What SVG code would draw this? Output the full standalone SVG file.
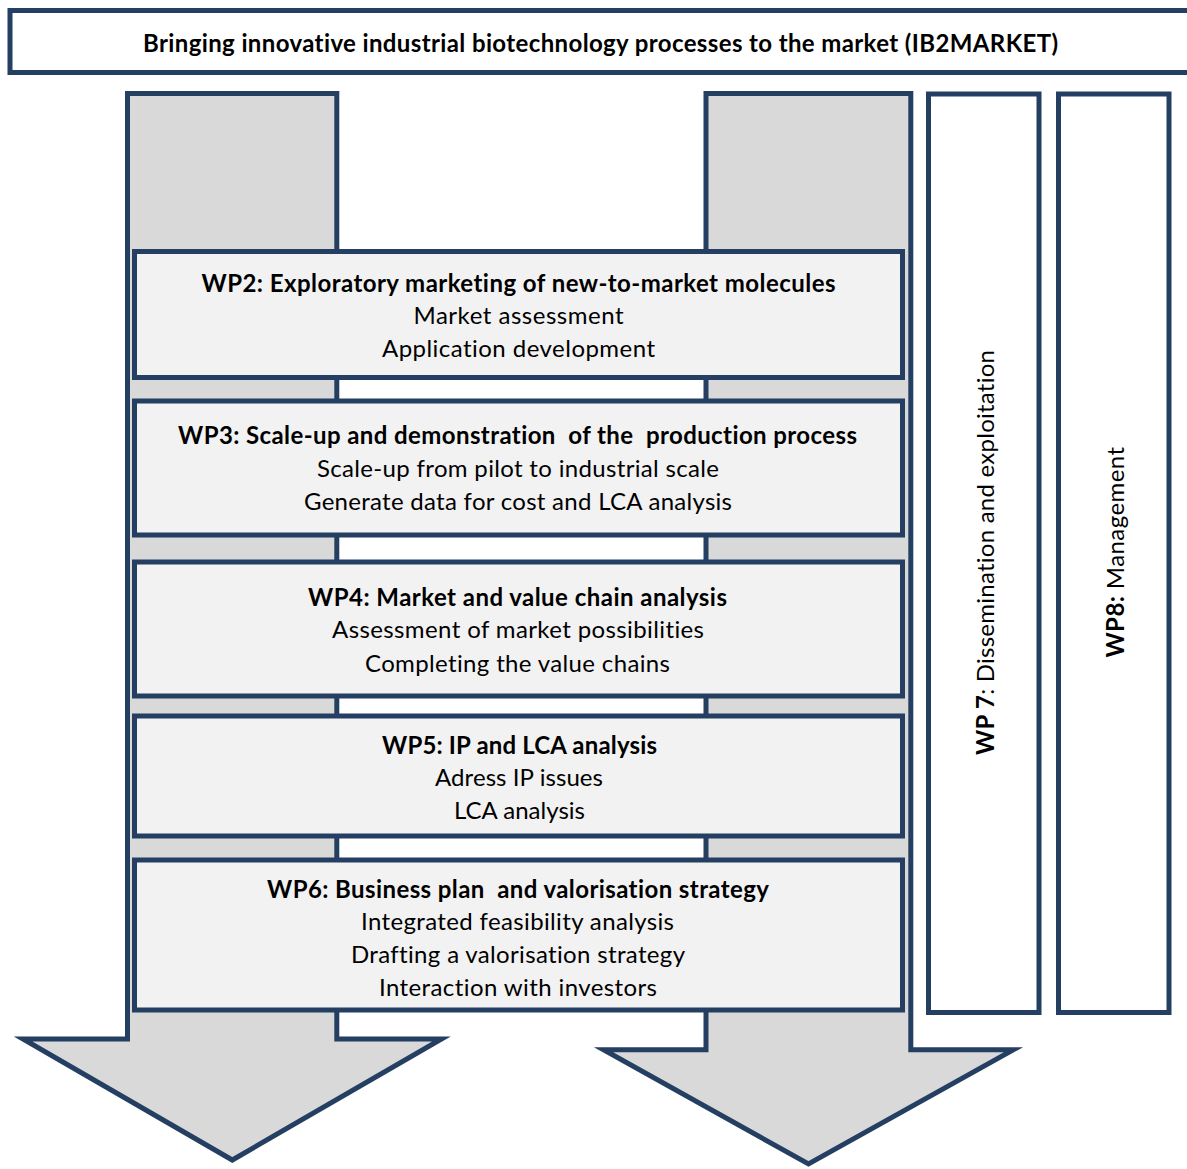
<svg xmlns="http://www.w3.org/2000/svg" width="1187" height="1169" viewBox="0 0 1187 1169">
<style>
.ln{stroke:#243f62;stroke-width:5;stroke-linejoin:miter}
.arrow{fill:#d9d9d9}
.box{fill:#f2f2f2}
.side{fill:#ffffff}
text{font-family:Lato,"Liberation Sans",sans-serif;font-size:24px;fill:#000;white-space:pre;font-variant-ligatures:none}
.c{text-anchor:middle}
.b{font-weight:bold}
</style>
<rect width="1187" height="1169" fill="#ffffff"/>
<g id="title">
<rect class="ln side" x="10" y="10.5" width="1190" height="62"/>
<text class="c b" x="600.5" y="52.3" textLength="915">Bringing innovative industrial biotechnology processes to the market (IB2MARKET)</text>
</g>
<g id="connectors">
<polygon id="arrow-left" class="ln arrow" points="127.5,93.5 336.8,93.5 336.8,1039 441.5,1039 232.3,1160 23,1039 127.5,1039"/>
<polygon id="arrow-right" class="ln arrow" points="706,93.5 910.8,93.5 910.8,1049.7 1013.5,1049.7 808.5,1164 603.5,1049.7 706,1049.7"/>
</g>
<g id="wp2">
<rect class="ln box" x="134.5" y="251.5" width="768" height="126"/>
<text class="c b" x="518.5" y="291.5" textLength="634">WP2: Exploratory marketing of new-to-market molecules</text>
<text class="c" x="518.5" y="324" textLength="210">Market assessment</text>
<text class="c" x="518.5" y="357" textLength="273">Application development</text>
</g>
<g id="wp3">
<rect class="ln box" x="134.5" y="401" width="768" height="134"/>
<text class="c b" x="517.5" y="443.5" textLength="679">WP3: Scale-up and demonstration  of the  production process</text>
<text class="c" x="518" y="476.5" textLength="402">Scale-up from pilot to industrial scale</text>
<text class="c" x="518" y="509.5" textLength="428">Generate data for cost and LCA analysis</text>
</g>
<g id="wp4">
<rect class="ln box" x="134.5" y="562" width="768" height="134"/>
<text class="c b" x="517.5" y="606" textLength="419">WP4: Market and value chain analysis</text>
<text class="c" x="518" y="638" textLength="372">Assessment of market possibilities</text>
<text class="c" x="517.5" y="672" textLength="305">Completing the value chains</text>
</g>
<g id="wp5">
<rect class="ln box" x="134.5" y="716" width="768" height="120"/>
<text class="c b" x="519.5" y="754" textLength="275">WP5: IP and LCA analysis</text>
<text class="c" x="519" y="786" textLength="168">Adress IP issues</text>
<text class="c" x="519.5" y="819" textLength="131">LCA analysis</text>
</g>
<g id="wp6">
<rect class="ln box" x="134.5" y="860" width="768" height="150"/>
<text class="c b" x="518" y="898" textLength="502">WP6: Business plan  and valorisation strategy</text>
<text class="c" x="517.5" y="930" textLength="313">Integrated feasibility analysis</text>
<text class="c" x="518" y="963" textLength="334">Drafting a valorisation strategy</text>
<text class="c" x="518" y="996" textLength="278">Interaction with investors</text>
</g>
<g id="wp7">
<rect class="ln side" x="928.5" y="94" width="110.5" height="918.5"/>
<text transform="translate(993.5,755) rotate(-90)" x="0" y="0" textLength="405"><tspan class="b">WP 7</tspan>: Dissemination and exploitation</text>
</g>
<g id="wp8">
<rect class="ln side" x="1058.5" y="94" width="110.5" height="918.5"/>
<text transform="translate(1124,657.5) rotate(-90)" x="0" y="0" textLength="210.5"><tspan class="b">WP8:</tspan> Management</text>
</g>
</svg>
